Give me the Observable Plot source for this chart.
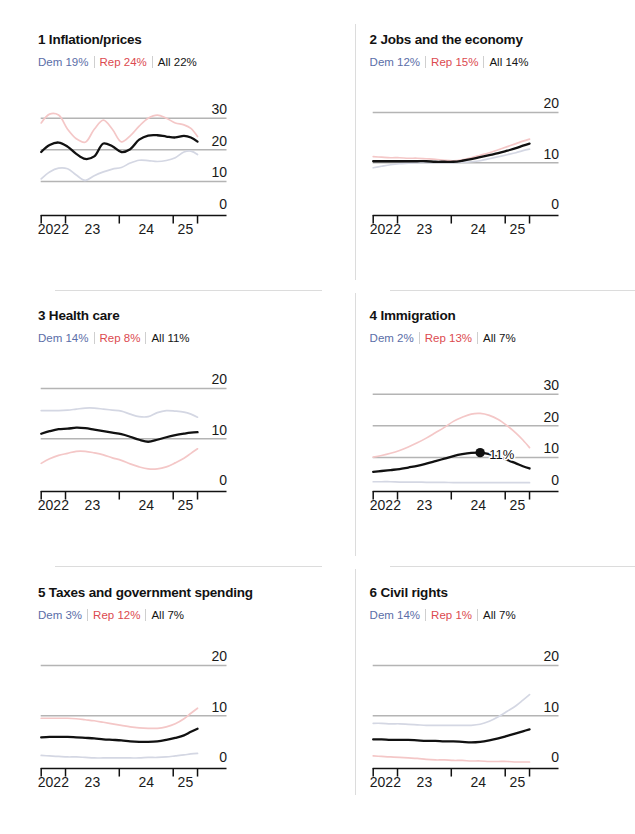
<!DOCTYPE html>
<html>
<head>
<meta charset="utf-8">
<script src="https://cdn.jsdelivr.net/npm/d3@7"></script>
<script src="https://cdn.jsdelivr.net/npm/@observablehq/plot@0.6"></script>
<style>
  body { margin: 0; background: #fff; font-family: "Liberation Sans", Arial, sans-serif; }
  #wrap { position: relative; width: 635px; height: 834px; overflow: hidden; }
  .title { position: absolute; font-weight: bold; font-size: 13.5px; letter-spacing: -0.2px; line-height: 15px; color: #121212; white-space: nowrap; }
  .sub { position: absolute; font-size: 11.5px; line-height: 14px; white-space: nowrap; }
  .sub span.sep { border-left: 1px solid #cfcfcf; margin-left: 5px; padding-left: 5px; }
  .chart { position: absolute; }
  .rule { position: absolute; background: #dcdcdc; }
</style>
</head>
<body>
<div id="wrap"></div>
<script>
// ---------- data ----------
const dates = ["2022-07-20","2022-09-15","2022-11-15","2023-01-15","2023-03-15","2023-05-15","2023-07-15","2023-09-15","2023-11-15","2024-01-15","2024-03-15","2024-05-15","2024-07-15","2024-09-15","2024-11-15","2025-01-15","2025-03-15","2025-05-01","2025-06-15"];
const tickDates = ["2022-07-20","2023-01-01","2024-01-01","2025-01-01","2025-06-15"];
const tickLabels = ["2022","23","24","25"];
const xDomain = ["2022-07-20","2026-01-01"];

const titles = ["1 Inflation/prices","2 Jobs and the economy","3 Health care","4 Immigration","5 Taxes and government spending","6 Civil rights"];
const demShare = [19,12,14,2,3,14];
const repShare = [24,15,8,13,12,1];
const allShare = [22,14,11,7,7,7];
const yMax = [31.8,20,20,31.8,20,20];
const yTicks = [[0,10,20,30],[0,10,20],[0,10,20],[0,10,20,30],[0,10,20],[0,10,20]];

const inflationDem = [10.8,13.0,14.2,14.0,12.0,10.3,11.8,13.0,13.9,14.4,15.8,16.7,16.6,16.3,16.6,17.5,19.3,19.6,18.5];
const inflationRep = [28.5,31.3,31.0,26.5,23.5,22.4,26.5,29.4,26.5,22.5,24.4,27.5,30.0,31.0,30.0,28.5,27.9,26.8,24.2];
const inflationAll = [19.3,21.5,22.3,21.0,18.7,17.1,17.9,22.0,21.1,19.3,20.2,23.2,24.5,24.6,24.2,23.9,24.4,23.9,22.6];

const jobsDem = [9.0,9.3,9.6,9.8,9.9,10.0,10.0,10.0,10.0,10.0,10.1,10.2,10.4,10.8,11.2,11.6,12.0,12.4,12.7];
const jobsRep = [11.2,11.1,11.0,11.0,10.9,10.9,10.8,10.7,10.5,10.4,10.6,11.0,11.5,12.0,12.6,13.2,13.8,14.3,14.7];
const jobsAll = [10.3,10.3,10.3,10.3,10.3,10.3,10.3,10.2,10.2,10.2,10.4,10.7,11.1,11.5,11.9,12.4,12.9,13.4,13.8];

const healthDem = [15.6,15.6,15.6,15.7,15.9,16.1,16.1,15.9,15.7,15.5,14.9,14.4,14.4,15.2,15.6,15.5,15.3,14.9,14.3];
const healthRep = [5.1,6.0,6.7,7.1,7.5,7.5,7.2,6.8,6.2,5.7,5.0,4.4,4.0,4.0,4.4,5.2,6.1,7.1,8.0];
const healthAll = [11.0,11.5,11.9,12.0,12.2,12.1,11.8,11.5,11.2,10.9,10.4,9.8,9.4,9.8,10.3,10.7,11.0,11.2,11.3];

const immigrationDem = [2.3,2.3,2.3,2.2,2.2,2.2,2.1,2.1,2.1,2.0,2.0,2.0,2.0,2.0,2.0,2.0,2.0,2.0,2.0];
const immigrationRep = [10.1,10.6,11.3,12.2,13.3,14.6,16.1,17.8,19.5,21.4,22.7,23.7,23.9,23.3,22.0,20.0,17.7,15.5,13.1];
const immigrationAll = [5.4,5.7,6.0,6.3,6.8,7.3,8.0,8.8,9.6,10.4,11.0,11.4,11.5,11.0,10.1,9.2,8.1,7.2,6.5];

const taxesDem = [2.1,2.0,1.9,1.8,1.8,1.7,1.6,1.6,1.6,1.6,1.6,1.6,1.7,1.7,1.8,2.0,2.2,2.4,2.5];
const taxesRep = [9.5,9.5,9.5,9.5,9.4,9.2,9.0,8.7,8.4,8.1,7.8,7.6,7.5,7.5,7.8,8.4,9.4,10.5,11.5];
const taxesAll = [5.7,5.8,5.8,5.8,5.7,5.6,5.5,5.3,5.2,5.1,4.9,4.8,4.8,4.9,5.2,5.6,6.1,6.8,7.4];

const civilDem = [8.5,8.5,8.4,8.4,8.3,8.2,8.1,8.1,8.1,8.1,8.1,8.1,8.3,8.9,9.8,10.9,12.0,13.1,14.2];
const civilRep = [2.0,1.9,1.8,1.7,1.6,1.5,1.3,1.2,1.2,1.1,1.1,1.0,1.0,0.9,0.9,0.9,0.8,0.8,0.8];
const civilAll = [5.3,5.3,5.2,5.2,5.2,5.1,5.0,5.0,4.9,4.9,4.8,4.7,4.8,5.1,5.5,6.0,6.5,6.9,7.3];

// annotation (panel 4): highlighted point
const annotDate = "2024-07-15";
const annotLabel = "11%";

// ---------- build ----------
const series = [
  [inflationDem, inflationRep, inflationAll],
  [jobsDem, jobsRep, jobsAll],
  [healthDem, healthRep, healthAll],
  [immigrationDem, immigrationRep, immigrationAll],
  [taxesDem, taxesRep, taxesAll],
  [civilDem, civilRep, civilAll]
];

const parse = d3.utcParse("%Y-%m-%d");
const X = dates.map(parse);
const T = tickDates.map(parse);
const XD = xDomain.map(parse);
const labelPos = tickLabels.map((l, i) => ({label: l, x: new Date((+T[i] + +T[i + 1]) / 2)}));

const DEM_TXT = "#5b6ea8", REP_TXT = "#dc4a4f";
const DEM_LINE = "#d4d7e3", REP_LINE = "#f4c7c7";
const FONT = "'Liberation Sans', Arial, sans-serif";

const wrap = document.getElementById("wrap");
const colX = [0, 331.6];
const rowY = [0, 276.2, 552.6];

function div(cls, css, html) {
  const e = document.createElement("div");
  e.className = cls;
  Object.assign(e.style, css);
  if (html != null) e.innerHTML = html;
  wrap.appendChild(e);
  return e;
}

// dividers
div("rule", {left: "354.5px", top: "24px", width: "1.5px", height: "256px"});
div("rule", {left: "354.5px", top: "293px", width: "1.5px", height: "263px"});
div("rule", {left: "354.5px", top: "569px", width: "1.5px", height: "226px"});
div("rule", {left: "55px", top: "289.5px", width: "267px", height: "1.5px"});
div("rule", {left: "390px", top: "289.5px", width: "245px", height: "1.5px"});
div("rule", {left: "55px", top: "565.5px", width: "267px", height: "1.5px"});
div("rule", {left: "390px", top: "565.5px", width: "245px", height: "1.5px"});

titles.forEach((title, i) => {
  const cx = colX[i % 2], ry = rowY[Math.floor(i / 2)];
  div("title", {left: (38 + cx) + "px", top: (32 + ry) + "px"}, title);
  div("sub", {left: (38 + cx) + "px", top: (55 + ry) + "px"},
    `<span style="color:${DEM_TXT}">Dem ${demShare[i]}%</span><span class="sep" style="color:${REP_TXT}">Rep ${repShare[i]}%</span><span class="sep" style="color:#151515">All ${allShare[i]}%</span>`);

  const [dem, rep, all] = series[i];
  const data = X.map((d, k) => ({date: d, dem: dem[k], rep: rep[k], all: all[k]}));
  const ymax = yMax[i];
  const marks = [
    Plot.ruleY(yTicks[i].filter(v => v > 0), {stroke: "#b4b4b4", strokeWidth: 1.5}),
    Plot.text(yTicks[i], {x: () => XD[1], y: d => d, text: d => String(d), textAnchor: "end", dy: -8.5, fontSize: 14, fill: "#1a1a1a"}),
    Plot.line(data, {x: "date", y: "dem", stroke: DEM_LINE, strokeWidth: 1.7, curve: "catmull-rom"}),
    Plot.line(data, {x: "date", y: "rep", stroke: REP_LINE, strokeWidth: 1.7, curve: "catmull-rom"}),
    Plot.line(data, {x: "date", y: "all", stroke: "#111", strokeWidth: 2.3, curve: "catmull-rom"}),
    Plot.ruleY([0], {stroke: "#111", strokeWidth: 1.5, dy: 2.5}),
    Plot.ruleX(T, {x: d => d, y1: 0, y2: -0.085 * ymax, stroke: "#111", strokeWidth: 1.5, dy: 2.5}),
    Plot.text(labelPos, {x: "x", y: () => 0, text: "label", dy: 17, fontSize: 14, fill: "#1a1a1a"})
  ];
  if (i === 3) {
    const pt = data.filter(d => +d.date === +parse(annotDate));
    marks.push(Plot.text(pt, {x: "date", y: "all", text: () => annotLabel, textAnchor: "start", dx: 9, dy: 2, fontSize: 13, fill: "#111", stroke: "white", strokeWidth: 3}));
    marks.push(Plot.dot(pt, {x: "date", y: "all", r: 4.7, fill: "#111"}));
  }
  const svg = Plot.plot({
    width: 300, height: 140,
    marginLeft: 40.7, marginRight: 73.5, marginTop: 12, marginBottom: 27.5,
    x: {type: "utc", domain: XD, axis: null},
    y: {domain: [0, ymax], axis: null},
    style: {fontFamily: FONT, background: "none", overflow: "visible"},
    marks
  });
  const holder = div("chart", {left: cx + "px", top: (100 + ry) + "px"});
  holder.appendChild(svg);
});
</script>
</body>
</html>
